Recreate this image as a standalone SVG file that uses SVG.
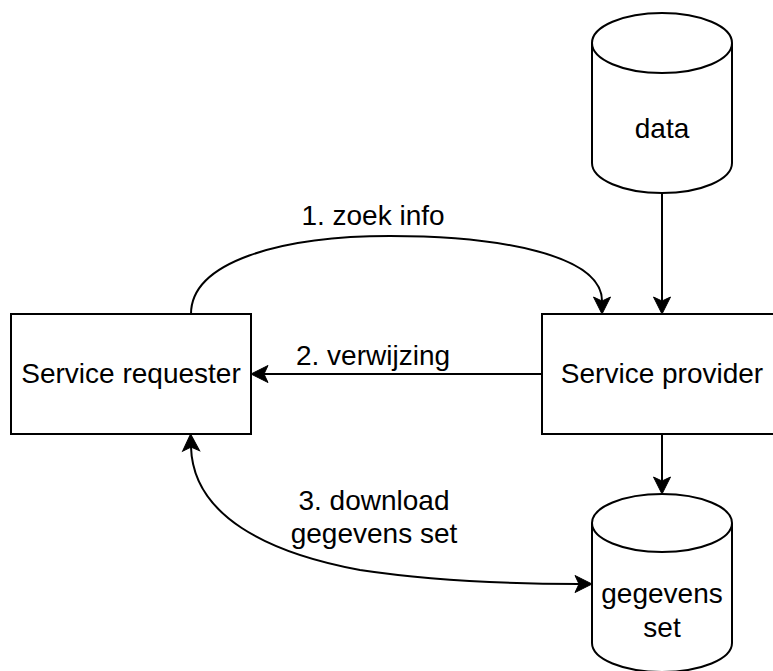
<svg xmlns="http://www.w3.org/2000/svg" width="773" height="671" viewBox="0 0 773 671">
<style>
.shape{fill:#fff;stroke:#000;stroke-width:2}
.edge{fill:none;stroke:#000;stroke-width:2}
text{font-family:"Liberation Sans",Arial,sans-serif;font-size:28px;fill:#000;text-anchor:middle}
</style>
<defs>
<marker id="arr" markerUnits="userSpaceOnUse" markerWidth="30" markerHeight="30" viewBox="-10 -10 30 20" refX="0" refY="0" orient="auto-start-reverse" overflow="visible">
<path d="M13,0 L-4,-8.5 L0,0 L-4,8.5 Z" fill="#000" stroke="#000" stroke-width="1"/>
</marker>
</defs>
<rect width="773" height="671" fill="#fff"/>
<g id="connectors">
<path class="edge" d="M191,314 C191,262 280,236 390,236 C500,236 602,255 602,301" marker-end="url(#arr)"/>
<text x="373" y="225">1. zoek info</text>
<path class="edge" d="M662,193 L662,301" marker-end="url(#arr)"/>
<path class="edge" d="M542,374 L264,374" marker-end="url(#arr)"/>
<text x="373" y="365">2. verwijzing</text>
<path class="edge" d="M662,434 L662,481" marker-end="url(#arr)"/>
<path class="edge" d="M191,447 C193,516 268,553 360,570 C440,582 520,584 579,584" marker-start="url(#arr)" marker-end="url(#arr)"/>
<text x="374" y="510">3. download</text>
<text x="374" y="543">gegevens set</text>
</g>
<g id="service-requester">
<rect class="shape" x="11" y="314" width="240" height="120"/>
<text x="131" y="383">Service requester</text>
</g>
<g id="service-provider">
<rect class="shape" x="542" y="314" width="240" height="120"/>
<text x="662" y="383">Service provider</text>
</g>
<g id="data">
<path class="shape" d="M592,43 A70,30 0 0 1 732,43 L732,163 A70,30 0 0 1 592,163 Z"/>
<path class="edge" d="M592,43 A70,30 0 0 0 732,43"/>
<text x="662" y="138">data</text>
</g>
<g id="gegevens-set">
<path class="shape" d="M592,523 A70,29 0 0 1 732,523 L732,643 A70,29 0 0 1 592,643 Z"/>
<path class="edge" d="M592,523 A70,29 0 0 0 732,523"/>
<text x="662" y="603">gegevens</text>
<text x="662" y="637">set</text>
</g>
</svg>
